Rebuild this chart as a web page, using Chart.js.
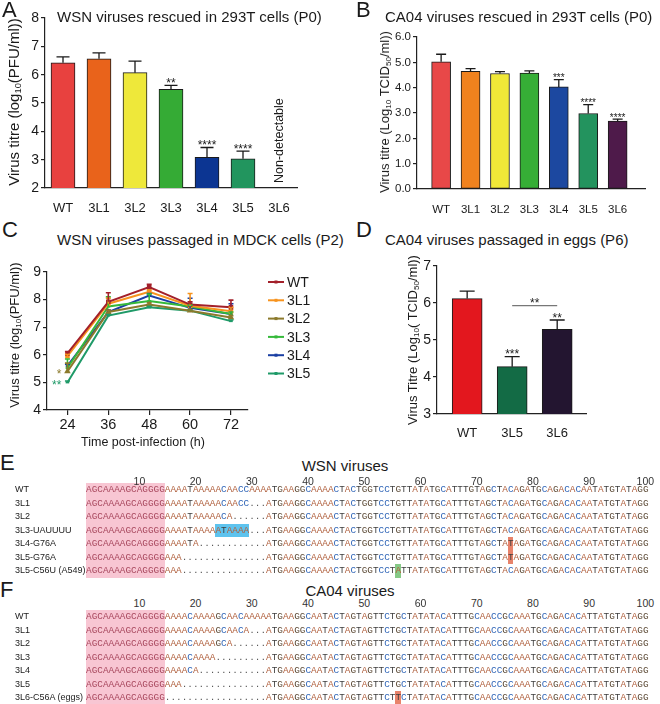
<!DOCTYPE html>
<html><head><meta charset="utf-8">
<script src="https://cdn.jsdelivr.net/npm/chart.js"></script>
<style>
html,body{margin:0;padding:0;background:#fff}
#page{position:relative;width:660px;height:704px;overflow:hidden;font-family:"Liberation Sans",Arial,sans-serif;color:#1a1a1a}
canvas{position:absolute}
.plab{position:absolute;font-size:22px;line-height:22px}
.ttl{position:absolute;font-size:15px;line-height:18px;white-space:nowrap}
.ytl{position:absolute;white-space:nowrap;transform:translate(-50%,-50%) rotate(-90deg);line-height:16px}
.ytl sub{font-size:0.62em;vertical-align:-0.25em;line-height:0}
.num{position:absolute;font-size:10.5px;line-height:12px;transform:translateX(-50%);color:#333}
.rname{position:absolute;font-size:9px;line-height:13.5px;white-space:nowrap;left:15px;color:#222}
.seq{position:absolute;left:86px;font-family:"Liberation Mono",monospace;font-size:9.37px;line-height:13.5px;white-space:pre}
.hl{position:absolute}
</style></head><body><div id="page">
<canvas id="cA" width="330" height="213" style="left:0;top:0"></canvas>
<canvas id="cB" width="330" height="215" style="left:330px;top:0"></canvas>
<canvas id="cC" width="330" height="190" style="left:0;top:250px"></canvas>
<canvas id="cD" width="330" height="190" style="left:330px;top:250px"></canvas>

<div class="plab" style="left:2px;top:-1px">A</div>
<div class="plab" style="left:356px;top:-1px">B</div>
<div class="plab" style="left:2px;top:219px">C</div>
<div class="plab" style="left:356px;top:219px">D</div>
<div class="plab" style="left:0;top:452px">E</div>
<div class="plab" style="left:0;top:579px">F</div>

<div class="ttl" style="left:57px;top:8px">WSN viruses rescued in 293T cells (P0)</div>
<div class="ttl" style="left:385px;top:8px">CA04 viruses rescued in 293T cells (P0)</div>
<div class="ttl" style="left:57px;top:231px">WSN viruses passaged in MDCK cells (P2)</div>
<div class="ttl" style="left:385px;top:231px">CA04 viruses passaged in eggs (P6)</div>
<div class="ttl" style="left:345px;top:457px;transform:translateX(-50%)">WSN viruses</div>
<div class="ttl" style="left:350px;top:582px;transform:translateX(-50%)">CA04 viruses</div>

<div class="ytl" style="left:14px;top:102px;font-size:15px">Virus titre (log<sub>10</sub>(PFU/ml))</div>
<div class="ytl" style="left:385px;top:112px;font-size:13px">Virus titre (Log<sub>10</sub> TCID<sub>50</sub>/ml))</div>
<div class="ytl" style="left:15px;top:335px;font-size:13px">Virus titre (log<sub>10</sub>(PFU/ml))</div>
<div class="ytl" style="left:413px;top:340px;font-size:13px">Virus Titre (Log<sub>10</sub>( TCID<sub>50</sub>/ml))</div>
<div class="ttl" style="left:143px;top:433px;font-size:12.5px;transform:translateX(-50%)">Time post-infection (h)</div>
</div>
<script>
// ---------- Panel A data ----------
const aCategories = ['WT','3L1','3L2','3L3','3L4','3L5','3L6'];
const aTitre      = [6.42, 6.56, 6.07, 5.48, 3.08, 3.03, null];
const aErrorTop   = [6.63, 6.77, 6.48, 5.62, 3.43, 3.30, null];
const aStars      = ['', '', '', '**', '****', '****', ''];
const aYTicks     = [2,3,4,5,6,7,8];
const aNote       = 'Non-detectable';
const aNoteIndex  = 6;

// ---------- Panel B data ----------
const bCategories = ['WT','3L1','3L2','3L3','3L4','3L5','3L6'];
const bTitre      = [5.02, 4.64, 4.56, 4.58, 4.03, 2.98, 2.68];
const bErrorTop   = [5.32, 4.75, 4.63, 4.66, 4.32, 3.33, 2.76];
const bStars      = ['', '', '', '', '***', '****', '****'];
const bYTicks     = [0,1,2,3,4,5,6];

// ---------- Panel C data ----------
const cTimes  = [24, 36, 48, 60, 72];
const cSeries = ['WT','3L1','3L2','3L3','3L4','3L5'];
const cWT  = [6.05, 7.92, 8.45, 7.82, 7.72];
const c3L1 = [5.95, 7.85, 8.28, 7.78, 7.58];
const c3L2 = [5.40, 7.55, 7.82, 7.60, 7.35];
const c3L3 = [5.52, 7.75, 7.95, 7.75, 7.48];
const c3L4 = [5.60, 7.55, 8.15, 7.70, 7.48];
const c3L5 = [5.00, 7.42, 7.72, 7.60, 7.22];
const cWTErr  = [6.12, 8.25, 8.55, 7.92, 7.98];
const c3L1Err = [6.02, 8.05, 8.35, 8.22, 7.72];
const c3L2Err = [5.70, 7.62, 7.88, 7.64, 7.42];
const c3L3Err = [5.85, 8.10, 8.20, 7.80, 7.55];
const c3L4Err = [5.66, 7.62, 8.22, 8.05, 7.85];
const c3L5Err = [5.05, 7.46, 7.76, 7.64, 7.26];
const cYTicks = [4,5,6,7,8,9];
const cStarSeries = ['3L2','3L5'];
const cStarText   = ['*','**'];

// ---------- Panel D data ----------
const dCategories = ['WT','3L5','3L6'];
const dTitre      = [6.12, 4.28, 5.29];
const dErrorTop   = [6.32, 4.55, 5.54];
const dStars      = ['', '***', '**'];
const dYTicks     = [3,4,5,6,7];
const dBracketPair  = [1, 2];
const dBracketLevel = 5.93;
const dBracketText  = '**';

// ---------- Panel E / F data ----------
const rulerTicks = [10,20,30,40,50,60,70,80,90,100];
const wsnNames = ['WT','3L1','3L2','3L3-UAUUUU','3L4-G76A','3L5-G76A','3L5-C56U (A549)'];
const wsnSeqs = [
 'AGCAAAAGCAGGGGAAAATAAAAACAACCAAAATGAAGGCAAAACTACTGGTCCTGTTATATGCATTTGTAGCTACAGATGCAGACACAATATGTATAGG',
 'AGCAAAAGCAGGGGAAAATAAAAACAACC...ATGAAGGCAAAACTACTGGTCCTGTTATATGCATTTGTAGCTACAGATGCAGACACAATATGTATAGG',
 'AGCAAAAGCAGGGGAAAATAAAAACA......ATGAAGGCAAAACTACTGGTCCTGTTATATGCATTTGTAGCTACAGATGCAGACACAATATGTATAGG',
 'AGCAAAAGCAGGGGAAAATAAAAATAAAA...ATGAAGGCAAAACTACTGGTCCTGTTATATGCATTTGTAGCTACAGATGCAGACACAATATGTATAGG',
 'AGCAAAAGCAGGGGAAAATA............ATGAAGGCAAAACTACTGGTCCTGTTATATGCATTTGTAGCTATAGATGCAGACACAATATGTATAGG',
 'AGCAAAAGCAGGGGAAA...............ATGAAGGCAAAACTACTGGTCCTGTTATATGCATTTGTAGCTATAGATGCAGACACAATATGTATAGG',
 'AGCAAAAGCAGGGGAAA...............ATGAAGGCAAAACTACTGGTCCTATTATATGCATTTGTAGCTACAGATGCAGACACAATATGTATAGG'
];
const wsnMarkRows  = [3, 4, 5, 6];
const wsnMarkPos   = [24, 76, 76, 56];
const wsnMarkLen   = [6, 1, 1, 1];
const wsnMarkKind  = ['insert','mut','mut','rev'];

const caNames = ['WT','3L1','3L2','3L3','3L4','3L5','3L6-C56A (eggs)'];
const caSeqs = [
 'AGCAAAAGCAGGGGAAAACAAAAGCAACAAAAATGAAGGCAATACTAGTAGTTCTGCTATATACATTTGCAACCGCAAATGCAGACACATTATGTATAGG',
 'AGCAAAAGCAGGGGAAAACAAAAGCAACA...ATGAAGGCAATACTAGTAGTTCTGCTATATACATTTGCAACCGCAAATGCAGACACATTATGTATAGG',
 'AGCAAAAGCAGGGGAAAACAAAAGCA......ATGAAGGCAATACTAGTAGTTCTGCTATATACATTTGCAACCGCAAATGCAGACACATTATGTATAGG',
 'AGCAAAAGCAGGGGAAAACAAAA.........ATGAAGGCAATACTAGTAGTTCTGCTATATACATTTGCAACCGCAAATGCAGACACATTATGTATAGG',
 'AGCAAAAGCAGGGGAAAACA............ATGAAGGCAATACTAGTAGTTCTGCTATATACATTTGCAACCGCAAATGCAGACACATTATGTATAGG',
 'AGCAAAAGCAGGGGAAA...............ATGAAGGCAATACTAGTAGTTCTGCTATATACATTTGCAACCGCAAATGCAGACACATTATGTATAGG',
 'AGCAAAAGCAGGGG..................ATGAAGGCAATACTAGTAGTTCTTCTATATACATTTGCAACCGCAAATGCAGACACATTATGTATAGG'
];
const caMarkRows = [6];
const caMarkPos  = [56];
const caMarkLen  = [1];
const caMarkKind = ['mut'];

// ---------- styling ----------
const FONT = '"Liberation Sans", Arial, sans-serif';
Chart.defaults.font.family = FONT;
Chart.defaults.color = '#1a1a1a';
const AX = '#222';
const aColors = ['#e8413f','#e9631b','#eee83a','#35ab35','#0c3592','#22955e','#888'];
const bColors = ['#e84848','#f0821e','#f0e838','#36ae36','#1c48a0','#23935e','#4e1a4a'];
const cColors = ['#a3202a','#f7931e','#8c7a2c','#35b93a','#1a3fa3','#1f9a68'];
const cPoints = ['rect','rect','triangle','line','crossRot','line'];
const dColors = ['#e3171e','#136b45','#231530'];

function barPlugin(vals, errs, stars, cap, starFont, starOff, extra){
  return {id:'barExtras', afterDatasetsDraw(chart){
    const ctx = chart.ctx, xs = chart.scales.x, ys = chart.scales.y;
    ctx.save();
    ctx.strokeStyle = '#1a1a1a'; ctx.lineWidth = 1.3;
    errs.forEach((e,i)=>{
      const m = vals[i]; if (e == null || m == null) return;
      const px = xs.getPixelForValue(i), p0 = ys.getPixelForValue(m), p1 = ys.getPixelForValue(e);
      ctx.beginPath(); ctx.moveTo(px,p0); ctx.lineTo(px,p1);
      ctx.moveTo(px-cap,p1); ctx.lineTo(px+cap,p1); ctx.stroke();
      if (stars[i]) {
        ctx.fillStyle = '#1a1a1a'; ctx.font = starFont; ctx.textAlign = 'center'; ctx.textBaseline = 'alphabetic';
        ctx.fillText(stars[i], px, p1 + starOff);
      }
    });
    if (extra) extra(chart, ctx, xs, ys);
    ctx.restore();
  }};
}

function barChart(id, cats, vals, colors, o, plugin){
  return new Chart(document.getElementById(id), {
    type:'bar',
    data:{datasets:[{data: vals.map((v,i)=>({x:i,y:v})), backgroundColor: colors, borderColor:'#1a1a1a', borderWidth:1, borderSkipped:false, barThickness:o.bar}]},
    options:{
      responsive:false, animation:false, devicePixelRatio:1,
      layout:{padding:o.pad},
      plugins:{legend:{display:false}, tooltip:{enabled:false}},
      scales:{
        x:{type:'linear', min:o.xmin, max:o.xmax, offset:false,
           afterBuildTicks:s=>{s.ticks = cats.map((c,i)=>({value:i}));},
           ticks:{callback:v=>cats[v], font:{size:o.xFont}, color:'#1a1a1a', padding:o.xPad, maxRotation:0, autoSkip:false},
           grid:{display:false}, border:{color:AX, width:1.2},
           afterFit:s=>{s.height = o.xH;}},
        y:{type:'linear', min:o.ymin, max:o.ymax,
           afterBuildTicks:s=>{s.ticks = o.yTicks.map(v=>({value:v}));},
           ticks:{font:{size:o.yFont}, color:'#1a1a1a', padding:o.yPad, callback:o.yFmt || (v=>v)},
           grid:{drawOnChartArea:false, drawTicks:true, tickLength:o.tl, color:AX, lineWidth:1.2},
           border:{color:AX, width:1.2},
           afterFit:s=>{s.width = o.yW;}}
      }
    },
    plugins:[plugin]
  });
}

// Panel A
barChart('cA', aCategories, aTitre, aColors,
  {bar:24, pad:{left:0,top:18,right:33,bottom:0}, xmin:-0.5, xmax:6.5, xFont:13, xPad:5, xH:25,
   ymin:2, ymax:8, yTicks:aYTicks, yFont:14, yPad:2, tl:4, yW:45},
  barPlugin(aTitre, aErrorTop, aStars, 6.5, '12px '+FONT, 1.5, (chart, ctx, xs, ys)=>{
    ctx.save();
    ctx.translate(xs.getPixelForValue(aNoteIndex)+1, ys.getPixelForValue(2) - 5);
    ctx.rotate(-Math.PI/2);
    ctx.fillStyle = '#1a1a1a'; ctx.font = '12.5px '+FONT; ctx.textAlign = 'left'; ctx.textBaseline = 'middle';
    ctx.fillText(aNote, 0, 0);
    ctx.restore();
  }));

// Panel B
barChart('cB', bCategories, bTitre, bColors,
  {bar:19, pad:{left:0,top:37,right:15,bottom:0}, xmin:-0.82, xmax:6.93, xFont:11.5, xPad:6, xH:26,
   ymin:0, ymax:6, yTicks:bYTicks, yFont:11.5, yPad:2, tl:4, yW:87, yFmt:v=>v.toFixed(1)},
  barPlugin(bTitre, bErrorTop, bStars, 5, '10px '+FONT, 1.5, null));

// Panel D
barChart('cD', dCategories, dTitre, dColors,
  {bar:30, pad:{left:0,top:16,right:74,bottom:0}, xmin:-0.67, xmax:2.64, xFont:13, xPad:4, xH:26,
   ymin:3, ymax:7, yTicks:dYTicks, yFont:14, yPad:2, tl:4, yW:107},
  barPlugin(dTitre, dErrorTop, dStars, 7.5, '12px '+FONT, 1.5, (chart, ctx, xs, ys)=>{
    const x1 = xs.getPixelForValue(dBracketPair[0]), x2 = xs.getPixelForValue(dBracketPair[1]);
    const y = ys.getPixelForValue(dBracketLevel);
    ctx.strokeStyle = '#777'; ctx.lineWidth = 1.2;
    ctx.beginPath(); ctx.moveTo(x1,y); ctx.lineTo(x2,y); ctx.stroke();
    ctx.fillStyle = '#1a1a1a'; ctx.font = '12px '+FONT; ctx.textAlign = 'center'; ctx.textBaseline = 'alphabetic';
    ctx.fillText(dBracketText, (x1+x2)/2, y + 1);
  }));

// Panel C
const cValues = [cWT, c3L1, c3L2, c3L3, c3L4, c3L5];
const cErrors = [cWTErr, c3L1Err, c3L2Err, c3L3Err, c3L4Err, c3L5Err];
const cPlugin = {id:'cExtras', afterDatasetsDraw(chart){
  const ctx = chart.ctx, xs = chart.scales.x, ys = chart.scales.y;
  ctx.save();
  for (let i = cValues.length - 1; i >= 0; i--) {
    ctx.strokeStyle = cColors[i]; ctx.lineWidth = 1.6;
    cValues[i].forEach((v,j)=>{
      const px = xs.getPixelForValue(cTimes[j]), p0 = ys.getPixelForValue(v), p1 = ys.getPixelForValue(cErrors[i][j]);
      ctx.beginPath(); ctx.moveTo(px,p0); ctx.lineTo(px,p1); ctx.moveTo(px-2.5,p1); ctx.lineTo(px+2.5,p1); ctx.stroke();
    });
  }
  cStarSeries.forEach((s,k)=>{
    const i = cSeries.indexOf(s);
    const px = xs.getPixelForValue(cTimes[0]) - 6, py = ys.getPixelForValue(cValues[i][0]);
    ctx.fillStyle = cColors[i]; ctx.font = '12px '+FONT; ctx.textAlign = 'right'; ctx.textBaseline = 'alphabetic';
    ctx.fillText(cStarText[k], px, py + 7);
  });
  chart.data.datasets.forEach((ds,i)=>{
    const y = 32 + i*18.3;
    ctx.strokeStyle = ds.borderColor; ctx.lineWidth = 2;
    ctx.beginPath(); ctx.moveTo(268,y); ctx.lineTo(284,y); ctx.stroke();
    ctx.fillStyle = ds.borderColor; ctx.fillRect(274.5, y-1.5, 3, 3);
    ctx.fillStyle = '#1a1a1a'; ctx.font = '14px '+FONT; ctx.textAlign = 'left'; ctx.textBaseline = 'middle';
    ctx.fillText(ds.label, 287, y + 1);
  });
  ctx.restore();
}};
new Chart(document.getElementById('cC'), {
  type:'line',
  data:{datasets: cSeries.map((s,i)=>({label:s, data:cValues[i].map((v,j)=>({x:cTimes[j], y:v})),
    borderColor:cColors[i], backgroundColor:cColors[i], borderWidth:2, pointRadius:1.8, pointStyle:cPoints[i], tension:0}))},
  options:{
    responsive:false, animation:false, devicePixelRatio:1,
    layout:{padding:{left:0, top:22, right:82, bottom:0}},
    plugins:{legend:{display:false}, tooltip:{enabled:false}},
    scales:{
      x:{type:'linear', min:18, max:77,
         afterBuildTicks:s=>{s.ticks = cTimes.map(v=>({value:v}));},
         ticks:{font:{size:14.5}, color:'#1a1a1a', padding:1, maxRotation:0, autoSkip:false},
         grid:{drawOnChartArea:false, drawTicks:true, tickLength:5, color:AX, lineWidth:1.2},
         border:{color:AX, width:1.2}, afterFit:s=>{s.height = 30;}},
      y:{type:'linear', min:4, max:9,
         afterBuildTicks:s=>{s.ticks = cYTicks.map(v=>({value:v}));},
         ticks:{font:{size:14}, color:'#1a1a1a', padding:2},
         grid:{drawOnChartArea:false, drawTicks:true, tickLength:4, color:AX, lineWidth:1.2},
         border:{color:AX, width:1.2}, afterFit:s=>{s.width = 47;}}
    }
  },
  plugins:[cPlugin]
});

// ---------- Alignments ----------
const CHAR_W = 5.622, SEQ_X = 86, ROW_H = 13.5;
const markColor = {insert:'#5ec3ee', mut:'#e8836b', rev:'#86c986'};
const nucColors = {A:'#b0603e', C:'#3267b8', G:'#5c4a36', T:'#3d3d3d'};
function nucColor(ch, idx){
  if (ch === '.') return '#555';
  if (idx < 14) return '#a8485e';
  return nucColors[ch] || '#333';
}
function buildAlignment(names, seqs, mRows, mPos, mLen, mKind, rowY0, rulerY){
  const page = document.getElementById('page');
  const add = (cls, style, html)=>{const d = document.createElement('div'); d.className = cls; Object.assign(d.style, style); if (html != null) d.innerHTML = html; page.appendChild(d); return d;};
  add('hl', {left:SEQ_X+'px', top:(rowY0-ROW_H/2)+'px', width:(14*CHAR_W)+'px', height:(names.length*ROW_H)+'px', background:'#f8c6d3'});
  mRows.forEach((r,k)=>add('hl', {left:(SEQ_X+(mPos[k]-1)*CHAR_W)+'px', top:(rowY0+r*ROW_H-ROW_H/2)+'px', width:(mLen[k]*CHAR_W)+'px', height:ROW_H+'px', background:markColor[mKind[k]]}));
  rulerTicks.forEach(n=>add('num', {left:(SEQ_X+(n-0.5)*CHAR_W)+'px', top:(rulerY-6)+'px'}, String(n)));
  names.forEach((nm,i)=>{
    const y = rowY0 + i*ROW_H - ROW_H/2;
    add('rname', {top:y+'px'}, nm);
    let h = '';
    for (let k = 0; k < seqs[i].length; k++) { const ch = seqs[i][k]; h += '<span style="color:'+nucColor(ch,k)+'">'+ch+'</span>'; }
    add('seq', {top:y+'px'}, h);
  });
}
buildAlignment(wsnNames, wsnSeqs, wsnMarkRows, wsnMarkPos, wsnMarkLen, wsnMarkKind, 490, 481);
buildAlignment(caNames, caSeqs, caMarkRows, caMarkPos, caMarkLen, caMarkKind, 617, 603);
</script>
</body></html>
